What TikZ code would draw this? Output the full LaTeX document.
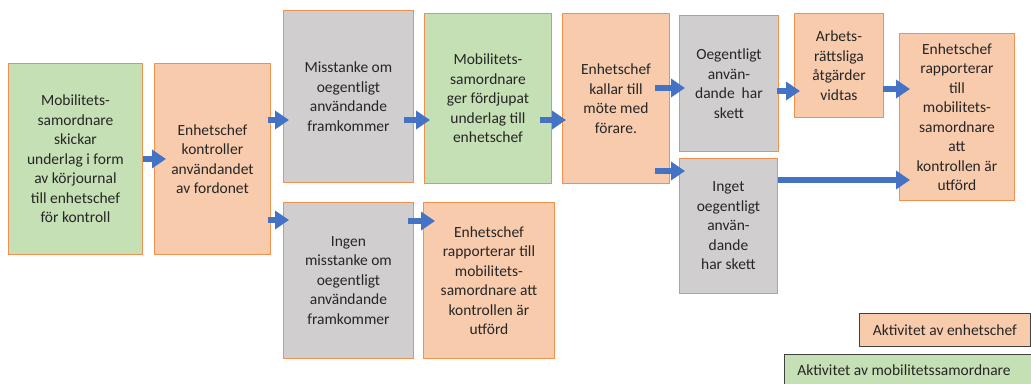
\documentclass[tikz,border=0pt]{standalone}
\usepackage{fontspec}
\setmainfont{Carlito}
\usetikzlibrary{arrows.meta,calc}
\definecolor{gfill}{HTML}{C5E0B4}
\definecolor{ofill}{HTML}{F8CBAD}
\definecolor{grfill}{HTML}{D0CECE}
\definecolor{bord}{HTML}{F0914F}
\definecolor{arrblue}{HTML}{4472C4}
\definecolor{txt}{HTML}{262626}
\definecolor{legbord}{HTML}{404040}
\begin{document}
\begin{tikzpicture}[x=1pt,y=-1pt,
  box/.style={draw=bord, line width=0.9pt, align=center, inner sep=0pt,
    anchor=north west, font=\fontsize{15.5}{19.5}\selectfont, text=txt},
  gbox/.style={box, fill=gfill},
  obox/.style={box, fill=ofill},
  grbox/.style={box, fill=grfill},
  legbox/.style={draw=legbord, line width=0.7pt, anchor=north west, inner sep=0pt,
    font=\fontsize{15.5}{19.5}\selectfont, text=txt},
  arr/.style={draw=arrblue, line width=5.5pt, -{Triangle[length=14pt,width=18pt]}}]
\useasboundingbox (0,0) rectangle (1031,383);
\fill[white] (0,0) rectangle (1031,383);

\node[gbox, minimum width=134pt, minimum height=191pt] (b1) at (8,63)
  {Mobilitets-\\samordnare\\skickar\\underlag i form\\av körjournal\\till enhetschef\\för kontroll};
\node[obox, minimum width=116pt, minimum height=191pt] (b2) at (154,63)
  {Enhetschef\\kontroller\\användandet\\av fordonet};
\node[grbox, minimum width=130pt, minimum height=172pt] (b3) at (283,10)
  {Misstanke om\\oegentligt\\användande\\framkommer};
\node[gbox, minimum width=127pt, minimum height=170pt] (b4) at (424,13)
  {Mobilitets-\\samordnare\\ger fördjupat\\underlag till\\enhetschef};
\node[obox, minimum width=107pt, minimum height=170pt] (b5) at (562,13)
  {Enhetschef\\kallar till\\möte med\\förare.};
\node[grbox, minimum width=99pt, minimum height=136pt] (b6) at (679,15)
  {Oegentligt\\använ-\\dande~ har\\skett};
\node[obox, minimum width=89pt, minimum height=104pt] (b7) at (794,13)
  {Arbets-\\rättsliga\\åtgärder\\vidtas};
\node[obox, minimum width=115pt, minimum height=167pt] (b8) at (899,33)
  {Enhetschef\\rapporterar\\till\\mobilitets-\\samordnare\\att\\kontrollen är\\utförd};
\node[grbox, minimum width=130pt, minimum height=156pt] (c3) at (283,202)
  {Ingen\\misstanke om\\oegentligt\\användande\\framkommer};
\node[obox, minimum width=131pt, minimum height=156pt] (c4) at (423,202)
  {Enhetschef\\rapporterar till\\mobilitets-\\samordnare att\\kontrollen är\\utförd};
\node[grbox, minimum width=98pt, minimum height=135pt] (b9) at (679,158)
  {Inget\\oegentligt\\använ-\\dande\\har skett};

\node[legbox, fill=ofill, minimum width=171pt, minimum height=33pt] (l1) at (859,313)
  {Aktivitet av enhetschef};
\node[legbox, fill=gfill, minimum height=31pt, inner xsep=13pt] (l2) at (784,354)
  {\makebox[240pt][l]{Aktivitet av mobilitetssamordnare}};

\draw[arr] (b1.east) -- ($(b2.west)+(12,0)$);
\draw[arr] ($(b2.east |- 0,120)+(-3,0)$) -- ($(b3.west |- 0,120)+(6,0)$);
\draw[arr] ($(b2.east |- 0,220)+(-3,0)$) -- ($(c3.west |- 0,220)+(6,0)$);
\draw[arr] ($(b3.east |- 0,120)+(-10,0)$) -- ($(b4.west |- 0,120)+(6,0)$);
\draw[arr] ($(c3.east |- 0,221)+(-6,0)$) -- ($(c4.west |- 0,221)+(12,0)$);
\draw[arr] ($(b4.east |- 0,120)+(-12,0)$) -- ($(b5.west |- 0,120)+(4,0)$);
\draw[arr] ($(b5.east |- 0,88)+(-15,0)$) -- ($(b6.west |- 0,88)+(6,0)$);
\draw[arr] ($(b5.east |- 0,171)+(-15,0)$) -- ($(b9.west |- 0,171)+(6,0)$);
\draw[arr] ($(b6.east |- 0,91)+(-2,0)$) -- ($(b7.west |- 0,91)+(6,0)$);
\draw[arr] ($(b7.east |- 0,89)+(-1,0)$) -- ($(b8.west |- 0,89)+(11,0)$);
\draw[arr] (b9.east |- 0,180) -- ($(b8.west |- 0,180)+(11,0)$);
\end{tikzpicture}
\end{document}
